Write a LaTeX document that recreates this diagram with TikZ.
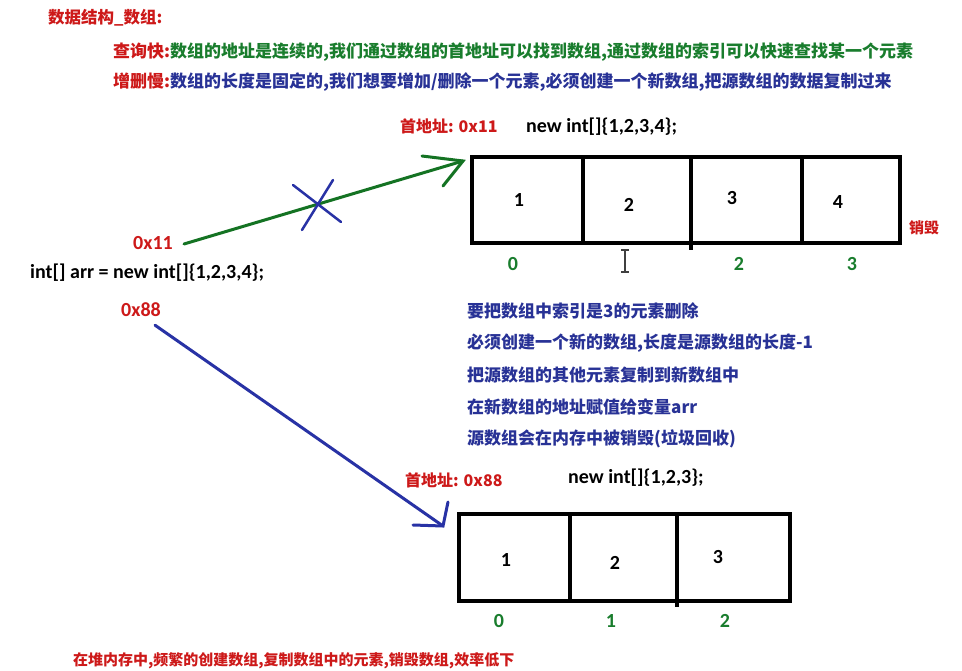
\documentclass[tikz,border=0pt]{standalone}
\usepackage{fontspec}
\setmainfont{Carlito}
\newfontfamily\cjk{Noto Sans CJK SC}
\definecolor{redc}{RGB}{205,25,25}
\definecolor{greenc}{RGB}{25,125,45}
\definecolor{bluec}{RGB}{40,50,150}
\definecolor{arrg}{RGB}{20,115,35}
\definecolor{arrb}{RGB}{40,50,165}
\begin{document}
\begin{tikzpicture}[x=1pt,y=-1pt,
  txt/.style={inner sep=0pt, font=\bfseries\fontsize{20}{22}\selectfont},
  idx/.style={inner sep=0pt, text=greenc, font=\bfseries\fontsize{20}{22}\selectfont},
  cn/.style={inner sep=0pt, anchor=west, font=\cjk\bfseries\fontsize{17}{20}\selectfont},
  cnr/.style={inner sep=0pt, anchor=west, text=bluec, font=\cjk\bfseries\fontsize{17}{20}\selectfont},
  box/.style={draw=black, line width=4pt, inner sep=0pt},
  div/.style={line width=4pt},
  garr/.style={draw=arrg, line width=3pt, line cap=round},
  barr/.style={draw=arrb, line width=3pt, line cap=round},
]
\clip (0,0) rectangle (962,671);
\fill[white] (0,0) rectangle (962,671);

% header
\node[cn, text=redc, font=\cjk\bfseries\fontsize{16.5}{20}\selectfont] (title) at (48,18) {数据结构\_数组:};
\node[cn] (fast) at (113,52) {\textcolor{redc}{查询快:}\textcolor{greenc}{数组的地址是连续的,我们通过数组的首地址可以找到数组,通过数组的索引可以快速查找某一个元素}};
\node[cn] (slow) at (113,82) {\textcolor{redc}{增删慢:}\textcolor{bluec}{数组的长度是固定的,我们想要增加/删除一个元素,必须创建一个新数组,把源数组的数据复制过来}};

% top array
\node[cn, text=redc, font=\cjk\bfseries\fontsize{16}{20}\selectfont] (addr1) at (400,126) {首地址: 0x11};
\node[txt, anchor=west] (new1) at (526,127) {new int[]\{1,2,3,4\};};
\node[box, minimum width=428pt, minimum height=86pt] (arr1) at (686,200) {};
\draw[div] (583,157) -- (583,243);
\draw[div] (691,157) -- (691,250);
\draw[div] (802,157) -- (802,243);
\node[txt] (a1) at (519,200) {1};
\node[txt] (a2) at (629,205) {2};
\node[txt] (a3) at (732,198) {3};
\node[txt] (a4) at (838,202) {4};
\node[idx] (i10) at (513,264) {0};
\node[idx] (i12) at (739,264) {2};
\node[idx] (i13) at (852,264) {3};
\node[cn, text=redc, font=\cjk\bfseries\fontsize{15}{20}\selectfont] (destroy) at (909,228) {销毁};
% cursor
\draw[black!75, line width=1.2pt] (625,251) -- (625,271) (621,250) -- (629,250) (621,272) -- (629,272);

% variable
\node[txt, text=redc] (p11) at (153,243) {0x11};
\node[txt, anchor=west] (decl) at (30,273) {int[] arr = new int[]\{1,2,3,4\};};
\node[txt, text=redc] (p88) at (141,310) {0x88};

% green arrow
\coordinate (tip1) at (463,161);
\draw[garr] (p11.east) ++(11,1) coordinate (s1) -- (tip1);
\draw[garr] (422,156) -- (tip1) -- (443,186);
% blue cross
\draw[barr, line width=2.5pt] (293,185) -- (341,222) (333,180) -- (302,230);

% explanation
\node[cnr] (e1) at (467,311) {要把数组中索引是3的元素删除};
\node[cnr] (e2) at (467,343) {必须创建一个新的数组,长度是源数组的长度-1};
\node[cnr] (e3) at (467,375) {把源数组的其他元素复制到新数组中};
\node[cnr] (e4) at (467,407) {在新数组的地址赋值给变量arr};
\node[cnr] (e5) at (467,439) {源数组会在内存中被销毁(垃圾回收)};

% bottom array
\node[cn, text=redc, font=\cjk\bfseries\fontsize{16}{20}\selectfont] (addr2) at (405,480) {首地址: 0x88};
\node[txt, anchor=west] (new2) at (568,478) {new int[]\{1,2,3\};};
\node[box, minimum width=331pt, minimum height=87pt] (arr2) at (624.5,557.5) {};
\draw[div] (570,514) -- (570,601);
\draw[div] (677,514) -- (677,607);
\node[txt] (b1) at (506,560) {1};
\node[txt] (b2) at (615,563) {2};
\node[txt] (b3) at (718,557) {3};
\node[idx] (j0) at (499,621) {0};
\node[idx] (j1) at (611,621) {1};
\node[idx] (j2) at (725,621) {2};

% blue arrow
\coordinate (tip2) at (443,526);
\draw[barr] (p88.south) ++(14,8) -- (tip2);
\draw[barr] (413,525) -- (tip2) -- (448,502);

% bottom note
\node[cn, text=redc, font=\cjk\bfseries\fontsize{15}{20}\selectfont] (note) at (73,661) {在堆内存中,频繁的创建数组,复制数组中的元素,销毁数组,效率低下};
\end{tikzpicture}
\end{document}
